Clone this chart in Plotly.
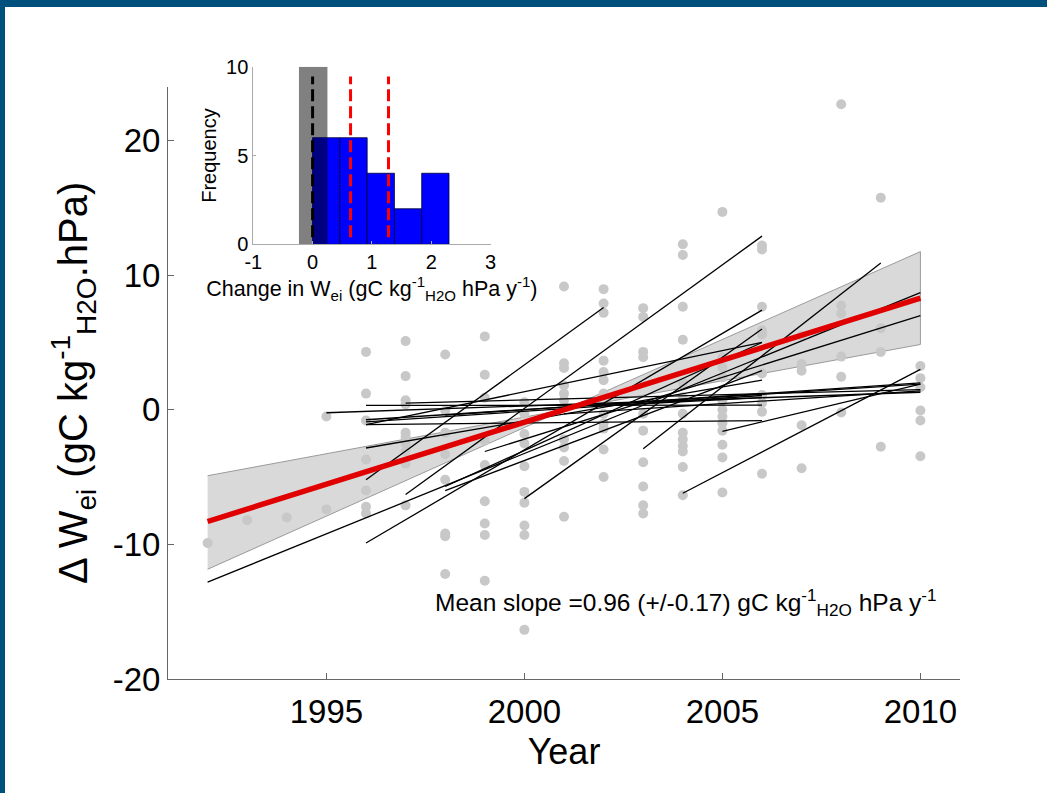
import plotly.graph_objects as go

# ---------------- data ----------------
years = list(range(1992, 2011))
dots = {
    1992: [-9.9],
    1993: [-8.2],
    1994: [-8.0],
    1995: [-0.5, -7.4],
    1996: [4.3, 1.2, -0.8, -3.7, -6.0, -7.2, -7.7],
    1997: [5.1, 2.5, 0.7, 0.4, -1.7, -2.0, -2.5, -3.1, -4.0, -7.1],
    1998: [4.1, -0.05, -1.7, -3.3, -5.2, -9.2, -9.4, -12.2],
    1999: [5.45, 2.6, 0.9, -2.3, -4.1, -6.8, -8.45, -9.3, -12.7],
    2000: [0.56, -0.3, -1.8, -2.5, -4.2, -6.1, -6.9, -8.6, -9.3, -16.35],
    2001: [9.16, 3.45, 3.1, 1.8, 1.2, 0.7, -2.2, -2.8, -3.8, -7.95],
    2002: [8.96, 7.9, 7.2, 3.65, 2.8, 2.2, 1.2, -0.3, -1.0, -1.4, -2.95, -5.0],
    2003: [7.55, 6.9, 4.3, 3.9, -0.3, -1.55, -3.9, -5.7, -7.1, -7.7],
    2004: [12.3, 11.5, 7.65, 5.2, 2.0, 0.93, -0.3, -1.7, -2.2, -2.7, -3.1, -4.25, -6.35],
    2005: [14.7, 3.9, 3.15, 2.4, 0.7, 0.0, -0.5, -1.0, -1.55, -2.6, -3.55, -6.15],
    2006: [12.2, 11.9, 7.65, 5.9, 5.6, 2.7, 1.1, 0.5, -0.15, -4.75],
    2007: [5.5, 3.4, 2.9, -1.15, -4.35],
    2008: [22.7, 7.75, 7.15, 3.95, 2.45, -0.2],
    2009: [15.75, 6.05, 4.3, -2.75],
    2010: [3.25, 2.35, 1.67, -0.05, -0.8, -3.45],
}

# individual site regression lines: start year, start value, end year, end value
line_x0 = [1992, 1996, 1996, 1997, 2000, 2003, 2004, 1999, 1998, 1998, 2005,
           1996, 1996, 1995, 1996, 1996, 1996, 1997, 1996, 1998, 2001, 2002]
line_y0 = [-12.8, -9.9, -5.2, -6.3, -6.6, -2.9, -6.2, -3.1, -6.0, -5.7, -1.6,
           -2.84, -1.1, -0.22, 0.32, -0.74, -0.9, 0.5, -1.1, -0.4, -0.3, 0.3]
line_x1 = [2010, 2006, 2002, 2006, 2006, 2009, 2010, 2010, 2006, 2006, 2010,
           2006, 2006, 2010, 2006, 2010, 2006, 2010, 2006, 2010, 2010, 2006]
line_y1 = [8.7, 7.4, 7.6, 12.9, 6.0, 10.9, 3.0, 7.0, 2.9, 5.0, 1.9,
           2.2, 5.0, 1.3, 0.35, 1.9, 1.06, 1.5, -0.8, 2.0, 1.4, 0.9]

# mean regression and its confidence band
mean_x = [1992, 2010]
mean_y = [-8.3, 8.3]
band_x = [1992, 2001, 2010]
band_hi = [-4.9, 0.0, 11.75]
band_lo = [-11.85, 0.0, 4.85]

# histogram of slopes
blue_edges = [0.0, 0.46, 0.92, 1.38, 1.84, 2.30]
blue_counts = [6, 6, 4, 2, 4]
gray_edges = [-0.23, 0.25]
gray_counts = [10]
null_mean = 0.0
ci_lines = [0.64, 1.28]
dash_span = [0.4, 9.45]

main_xticks = [1995, 2000, 2005, 2010]
main_yticks = [-20, -10, 0, 10, 20]
hist_xticks = [-1, 0, 1, 2, 3]
hist_yticks = [0, 5, 10]

FONT = "Liberation Sans, Arial, Helvetica, sans-serif"
W, H = 1047, 793
ML, MR, MT, MB = 168, 87, 60, 114
PW, PH = W - ML - MR, H - MT - MB

def px_x(px):
    return (px - ML) / PW

def px_y(py):
    return (H - MB - py) / PH

def lab(v):
    return str(v)  # plain hyphen minus, as in the original figure

fig = go.Figure()

# confidence band (bow-tie polygon)
bx = band_x + band_x[::-1]
by = band_hi + band_lo[::-1]
fig.add_trace(go.Scatter(x=bx, y=by, fill="toself", fillcolor="#d9d9d9",
                         line=dict(color="#9a9a9a", width=1), mode="lines",
                         hoverinfo="skip", showlegend=False))

# dots
dx, dy = [], []
for yr in years:
    for v in dots[yr]:
        dx.append(yr)
        dy.append(v)
fig.add_trace(go.Scatter(x=dx, y=dy, mode="markers",
                         marker=dict(color="#c8c8c8", size=10, line=dict(width=0)),
                         showlegend=False))

# site lines
for x0, y0, x1, y1 in zip(line_x0, line_y0, line_x1, line_y1):
    fig.add_trace(go.Scatter(x=[x0, x1], y=[y0, y1], mode="lines",
                             line=dict(color="black", width=1.3), showlegend=False))

# mean line
fig.add_trace(go.Scatter(x=mean_x, y=mean_y, mode="lines",
                         line=dict(color="#e00000", width=5.5), showlegend=False))

# ---------------- histogram inset ----------------
gc = [(gray_edges[i] + gray_edges[i + 1]) / 2 for i in range(len(gray_counts))]
gw = [gray_edges[i + 1] - gray_edges[i] for i in range(len(gray_counts))]
fig.add_trace(go.Bar(x=gc, y=gray_counts, width=gw, marker=dict(color="#808080", line=dict(width=0)),
                     xaxis="x2", yaxis="y2", showlegend=False))
bc = [(blue_edges[i] + blue_edges[i + 1]) / 2 for i in range(len(blue_counts))]
bw = [blue_edges[i + 1] - blue_edges[i] for i in range(len(blue_counts))]
fig.add_trace(go.Bar(x=bc, y=blue_counts, width=bw,
                     marker=dict(color="#0000ff", line=dict(color="#000033", width=0.8)),
                     xaxis="x2", yaxis="y2", showlegend=False))
# overlap of gray and first blue bin
ov0 = max(gray_edges[0], blue_edges[0])
ov1 = min(gray_edges[1], blue_edges[1])
ovh = min(gray_counts[0], blue_counts[0])
fig.add_trace(go.Bar(x=[(ov0 + ov1) / 2], y=[ovh], width=[ov1 - ov0],
                     marker=dict(color="#000080", line=dict(width=0)),
                     xaxis="x2", yaxis="y2", showlegend=False))
fig.add_trace(go.Scatter(x=[null_mean, null_mean], y=dash_span, mode="lines",
                         line=dict(color="black", width=3, dash="12px,5px"),
                         xaxis="x2", yaxis="y2", showlegend=False))
for c in ci_lines:
    fig.add_trace(go.Scatter(x=[c, c], y=dash_span, mode="lines",
                             line=dict(color="#ff0000", width=3, dash="12px,5px"),
                             xaxis="x2", yaxis="y2", showlegend=False))

axis_common = dict(showgrid=False, zeroline=False, ticks="inside", ticklen=6,
                   tickcolor="#666666", linecolor="#666666", showline=True, mirror=False)

fig.update_layout(
    width=W, height=H,
    margin=dict(l=ML, r=MR, t=MT, b=MB),
    paper_bgcolor="white", plot_bgcolor="white",
    font=dict(family=FONT, color="black"),
    barmode="overlay",
    xaxis=dict(range=[1991, 2011], tickvals=main_xticks, ticktext=[lab(v) for v in main_xticks],
               domain=[0, 1], tickfont=dict(size=33), anchor="y", ticklabelstandoff=3,
               title=dict(text="Year", font=dict(size=36), standoff=10),
               **axis_common),
    yaxis=dict(range=[-20, 24], tickvals=main_yticks, ticktext=[lab(v) for v in main_yticks],
               domain=[0, px_y(86.7)], tickfont=dict(size=33), anchor="x",
               title=dict(text="\u0394 W<sub>ei</sub> (gC kg<sup>-1</sup><sub>H2O</sub>.hPa)",
                          font=dict(size=40), standoff=12),
               **axis_common),
    xaxis2=dict(range=[-1, 3], tickvals=hist_xticks, ticktext=[lab(v) for v in hist_xticks],
                domain=[px_x(253.3), px_x(490.5)],
                anchor="y2", tickfont=dict(size=20), ticklen=3,
                title=dict(text="Change in W<sub>ei</sub> (gC kg<sup>-1</sup><sub>H2O</sub> hPa y<sup>-1</sup>)",
                           font=dict(size=21.5), standoff=4),
                showgrid=False, zeroline=False, ticks="inside", showline=True,
                linecolor="#aaaaaa", tickcolor="#aaaaaa"),
    yaxis2=dict(range=[0, 10], tickvals=hist_yticks, ticktext=[lab(v) for v in hist_yticks],
                domain=[px_y(244.3), px_y(66.7)],
                anchor="x2", tickfont=dict(size=20), ticklen=3,
                title=dict(text="Frequency", font=dict(size=20), standoff=4),
                showgrid=False, zeroline=False, ticks="inside", showline=True,
                linecolor="#aaaaaa", tickcolor="#aaaaaa"),
    annotations=[dict(
        x=2004.07, y=-14.35, xref="x", yref="y", showarrow=False,
        text="Mean slope =0.96 (+/-0.17) gC kg<sup>-1</sup><sub>H2O</sub> hPa y<sup>-1</sup>",
        font=dict(size=24.5, family=FONT), xanchor="center", yanchor="middle")],
)

# blue frame around the slide
frame = "#00507e"
fig.add_shape(type="rect", xref="paper", yref="paper", x0=px_x(0), x1=px_x(W), y0=px_y(0), y1=px_y(7),
              fillcolor=frame, line=dict(width=0), layer="above")
fig.add_shape(type="rect", xref="paper", yref="paper", x0=px_x(0), x1=px_x(5), y0=px_y(0), y1=px_y(H),
              fillcolor=frame, line=dict(width=0), layer="above")

fig.write_html("out.html")
